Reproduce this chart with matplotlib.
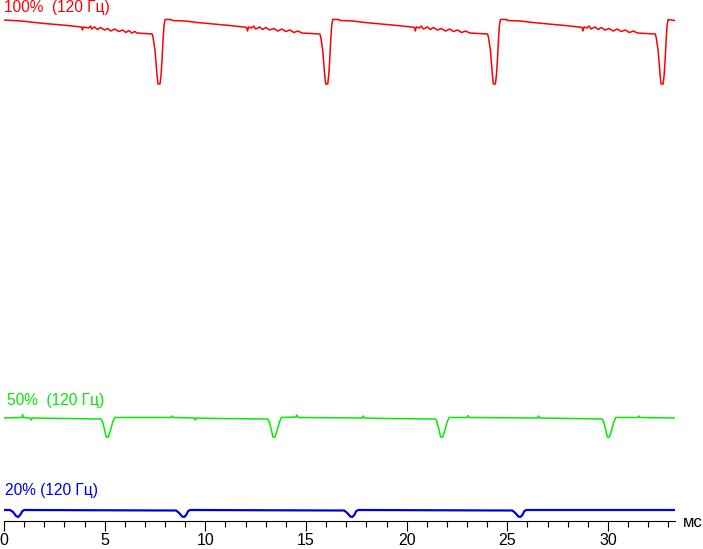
#! /usr/bin/env python
#
# Brightness vs time for three backlight levels (120 Hz flicker)
#

import matplotlib
matplotlib.use('Agg')
import matplotlib.pyplot as plt
from matplotlib.ticker import MultipleLocator

# Time in ms, brightness in arbitrary units
red_t = [0.00, 0.85, 1.30, 2.00, 2.90, 3.60, 3.85, 3.90, 3.95, 4.20, 4.30, 4.35, 4.50, 4.65, 4.80,
         5.00, 5.15, 5.30, 5.50, 5.70, 5.90, 6.05, 6.20, 6.35, 6.50, 6.60, 7.00, 7.36,
         7.41, 7.50, 7.55, 7.60, 7.65, 7.75, 7.80, 7.85, 7.90, 7.95, 8.00,
         8.30, 8.35, 9.00, 9.60, 10.40, 11.20, 11.90, 12.05, 12.10, 12.15, 12.30, 12.40, 12.50,
         12.70, 12.85, 13.00, 13.20, 13.40, 13.60, 13.80, 14.00, 14.20, 14.40, 14.60, 14.80,
         15.30, 15.69,
         15.74, 15.83, 15.88, 15.93, 15.98, 16.08, 16.13, 16.18, 16.23, 16.28, 16.33,
         16.63, 16.68, 17.33, 17.93, 18.73, 19.53, 20.23, 20.38, 20.43, 20.48, 20.63, 20.73, 20.83,
         21.03, 21.18, 21.33, 21.53, 21.73, 21.93, 22.13, 22.33, 22.53, 22.73, 22.93, 23.13,
         23.63, 24.02,
         24.07, 24.16, 24.21, 24.26, 24.31, 24.41, 24.46, 24.51, 24.56, 24.61, 24.66,
         24.96, 25.01, 25.66, 26.26, 27.06, 27.86, 28.56, 28.71, 28.76, 28.81, 28.96, 29.06, 29.16,
         29.36, 29.51, 29.66, 29.86, 30.06, 30.26, 30.46, 30.66, 30.86, 31.06, 31.26, 31.46,
         31.96, 32.35,
         32.40, 32.49, 32.54, 32.59, 32.64, 32.74, 32.79, 32.84, 32.89, 32.94, 32.99, 33.30]
red_v = [100.2, 100.0, 99.8, 99.5, 99.2, 98.9, 98.8, 98.2, 98.8, 98.6, 99.0, 98.4, 98.8, 98.3, 98.7,
         98.2, 98.5, 98.0, 98.4, 97.9, 98.2, 97.7, 98.1, 97.6, 97.9, 97.6, 97.5, 97.4,
         96.6, 94.2, 91.6, 89.2, 87.4, 87.4, 89.2, 92.2, 96.2, 99.2, 100.3,
         100.3, 100.1, 100.0, 99.7, 99.4, 99.1, 98.8, 98.7, 98.0, 98.8, 98.6, 99.0, 98.4,
         98.8, 98.3, 98.7, 98.2, 98.5, 98.0, 98.4, 97.9, 98.2, 97.7, 98.0, 97.6,
         97.5, 97.4,
         96.6, 94.2, 91.6, 89.2, 87.4, 87.4, 89.2, 92.2, 96.2, 99.2, 100.3,
         100.3, 100.1, 100.0, 99.7, 99.4, 99.1, 98.8, 98.7, 98.0, 98.8, 98.6, 99.0, 98.4,
         98.8, 98.3, 98.7, 98.2, 98.5, 98.0, 98.4, 97.9, 98.2, 97.7, 98.0, 97.6,
         97.5, 97.4,
         96.6, 94.2, 91.6, 89.2, 87.4, 87.4, 89.2, 92.2, 96.2, 99.2, 100.3,
         100.3, 100.1, 100.0, 99.7, 99.4, 99.1, 98.8, 98.7, 98.0, 98.8, 98.6, 99.0, 98.4,
         98.8, 98.3, 98.7, 98.2, 98.5, 98.0, 98.4, 97.9, 98.2, 97.7, 98.0, 97.6,
         97.5, 97.4,
         96.6, 94.2, 91.6, 89.2, 87.4, 87.4, 89.2, 92.2, 96.2, 99.2, 100.3, 100.1]

green_t = [0.00, 0.90, 0.92, 0.95, 1.30, 1.35, 1.40, 3.00, 4.82,
           4.90, 5.00, 5.08, 5.18, 5.28, 5.40, 5.50,
           8.30, 8.35, 8.40, 9.45, 9.50, 9.55, 10.50, 13.10,
           13.18, 13.28, 13.36, 13.46, 13.56, 13.68, 13.78,
           14.50, 14.55, 14.60, 17.80, 17.85, 17.90, 19.00, 21.43,
           21.51, 21.61, 21.69, 21.79, 21.89, 22.01, 22.11,
           23.00, 23.05, 23.10, 26.50, 26.55, 26.60, 29.71,
           29.79, 29.89, 29.97, 30.07, 30.17, 30.29, 30.39,
           31.50, 31.55, 31.60, 33.30]
green_v = [20.6, 20.7, 21.3, 20.7, 20.6, 20.2, 20.6, 20.5, 20.4,
           19.8, 18.2, 16.8, 16.8, 18.0, 19.8, 20.7,
           20.7, 21.0, 20.7, 20.6, 20.2, 20.6, 20.5, 20.4,
           19.8, 18.2, 16.8, 16.8, 18.0, 19.8, 20.7,
           20.8, 21.2, 20.7, 20.6, 21.0, 20.6, 20.5, 20.4,
           19.8, 18.2, 16.8, 16.8, 18.0, 19.8, 20.7,
           20.7, 21.1, 20.7, 20.6, 21.0, 20.6, 20.4,
           19.8, 18.2, 16.8, 16.8, 18.0, 19.8, 20.7,
           20.7, 21.0, 20.7, 20.6]

blue_t = [0.00, 0.30, 0.45, 0.60, 0.70, 0.80, 0.92, 1.00,
          8.55, 8.70, 8.85, 8.95, 9.05, 9.15, 9.25,
          16.90, 17.05, 17.20, 17.30, 17.40, 17.50, 17.60,
          25.25, 25.40, 25.55, 25.65, 25.75, 25.85, 25.95, 33.30]
blue_v = [2.2, 2.2, 1.8, 1.0, 0.8, 1.2, 2.0, 2.2,
          2.1, 1.6, 0.9, 0.8, 1.2, 2.0, 2.2,
          2.1, 1.6, 0.9, 0.8, 1.2, 2.0, 2.2,
          2.1, 1.6, 0.9, 0.8, 1.2, 2.0, 2.2, 2.2]

labels = ['100%  (120 Гц)', '50%  (120 Гц)', '20% (120 Гц)']
colors = ['#ff0000', '#00ee00', '#0000e6']

W, H = 703, 549
fig = plt.figure(figsize=(W / 100, H / 100), dpi=100)
ax = fig.add_axes([4 / W, 28 / H, 671 / W, 521 / H])

ax.plot(red_t, red_v, color=colors[0], lw=1.1)
ax.plot(green_t, green_v, color=colors[1], lw=1.1)
ax.plot(blue_t, blue_v, color=colors[2], lw=1.6)

ax.set_xlim(0, 33.33)
ax.set_ylim(0, 104.2)

# only the bottom axis
for s in ['left', 'right', 'top']:
    ax.spines[s].set_visible(False)
ax.spines['bottom'].set_linewidth(0.8)
ax.set_yticks([])
ax.xaxis.set_major_locator(MultipleLocator(5))
ax.xaxis.set_minor_locator(MultipleLocator(1))
ax.tick_params(axis='x', which='major', length=7.2, width=0.8, pad=1.5,
               labelsize=11.5)
ax.tick_params(axis='x', which='minor', length=4.3, width=0.8)
for lab in ax.get_xticklabels():
    lab.set_family('Liberation Sans')

# trace labels
fig.text(4 / W, 1 - 12 / H, labels[0], color=colors[0], fontsize=11.2,
         family='Liberation Sans', va='baseline')
fig.text(7 / W, 1 - 405 / H, labels[1], color=colors[1], fontsize=11.2,
         family='Liberation Sans', va='baseline')
fig.text(5 / W, 1 - 495 / H, labels[2], color=colors[2], fontsize=11.2,
         family='Liberation Sans', va='baseline')
fig.text(683 / W, 1 - 527 / H, 'мс', color='black', fontsize=12,
         family='Liberation Sans', va='baseline')

fig.savefig('out.png', dpi=100)
